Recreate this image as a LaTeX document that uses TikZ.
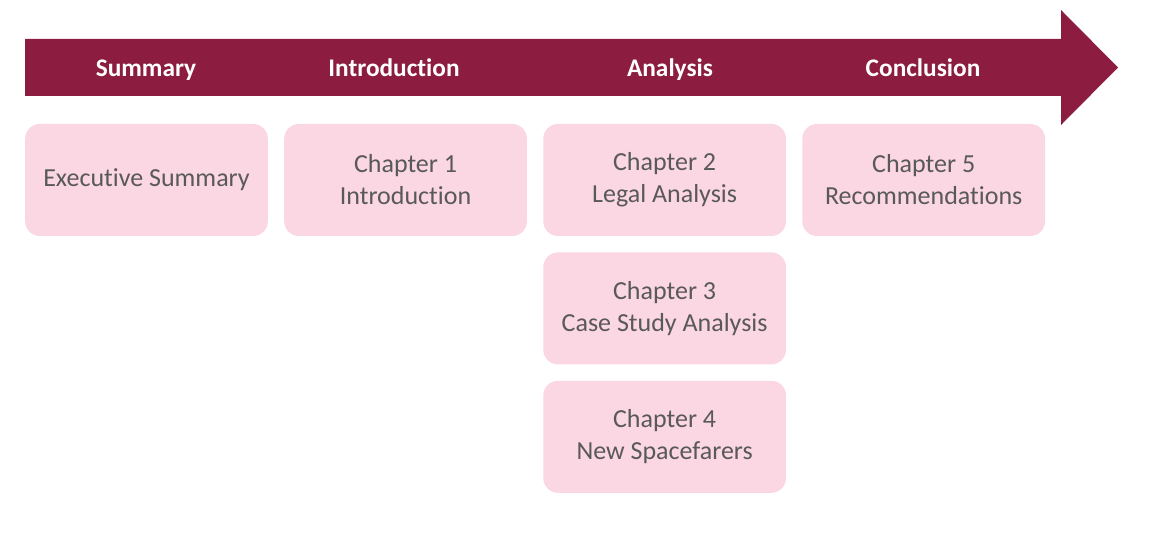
\documentclass[tikz,border=0pt]{standalone}
\usepackage{fontspec}
\setmainfont{Carlito}[RawFeature=-liga]
\usepackage{tikz}
\usetikzlibrary{positioning}
\usepackage{xcolor}
\definecolor{maroon}{HTML}{8C1D40}
\definecolor{softpink}{HTML}{FBD6E3}
\definecolor{textgrey}{HTML}{595959}

\begin{document}
\begin{tikzpicture}[
    x=0.75pt, y=-0.75pt,
    box/.style={fill=softpink, rounded corners=11pt, minimum width=182pt, minimum height=84pt,
                align=center, text=textgrey, font=\fontsize{19.5}{24}\selectfont, inner sep=0pt},
    head/.style={text=white, anchor=base, font=\fontsize{19}{22}\selectfont\bfseries},
    node distance=11.9pt
]
\useasboundingbox (0,0) rectangle (1166,538);

% timeline arrow
\fill[maroon] (25,39) -- (1061,39) -- (1061,10) -- (1118,67.5) -- (1061,125) -- (1061,96) -- (25,96) -- cycle;

\node[head] (hsum) at (146,76.5) {Summary};
\node[head] (hintro) at (394,76.5) {Introduction};
\node[head] (hana) at (670,76.5) {Analysis};
\node[head] (hcon) at (923,76.5) {Conclusion};

\node[box] (exec) at (146.5,180) {Executive Summary};
\node[box, right=of exec] (ch1) {Chapter 1\\Introduction};
\node[box, right=of ch1] (ch2) {Chapter 2\\Legal Analysis};
\node[box, right=of ch2] (ch5) {Chapter 5\\Recommendations};
\node[box, below=of ch2] (ch3) {Chapter 3\\Case Study Analysis};
\node[box, below=of ch3] (ch4) {Chapter 4\\New Spacefarers};
\end{tikzpicture}
\end{document}
